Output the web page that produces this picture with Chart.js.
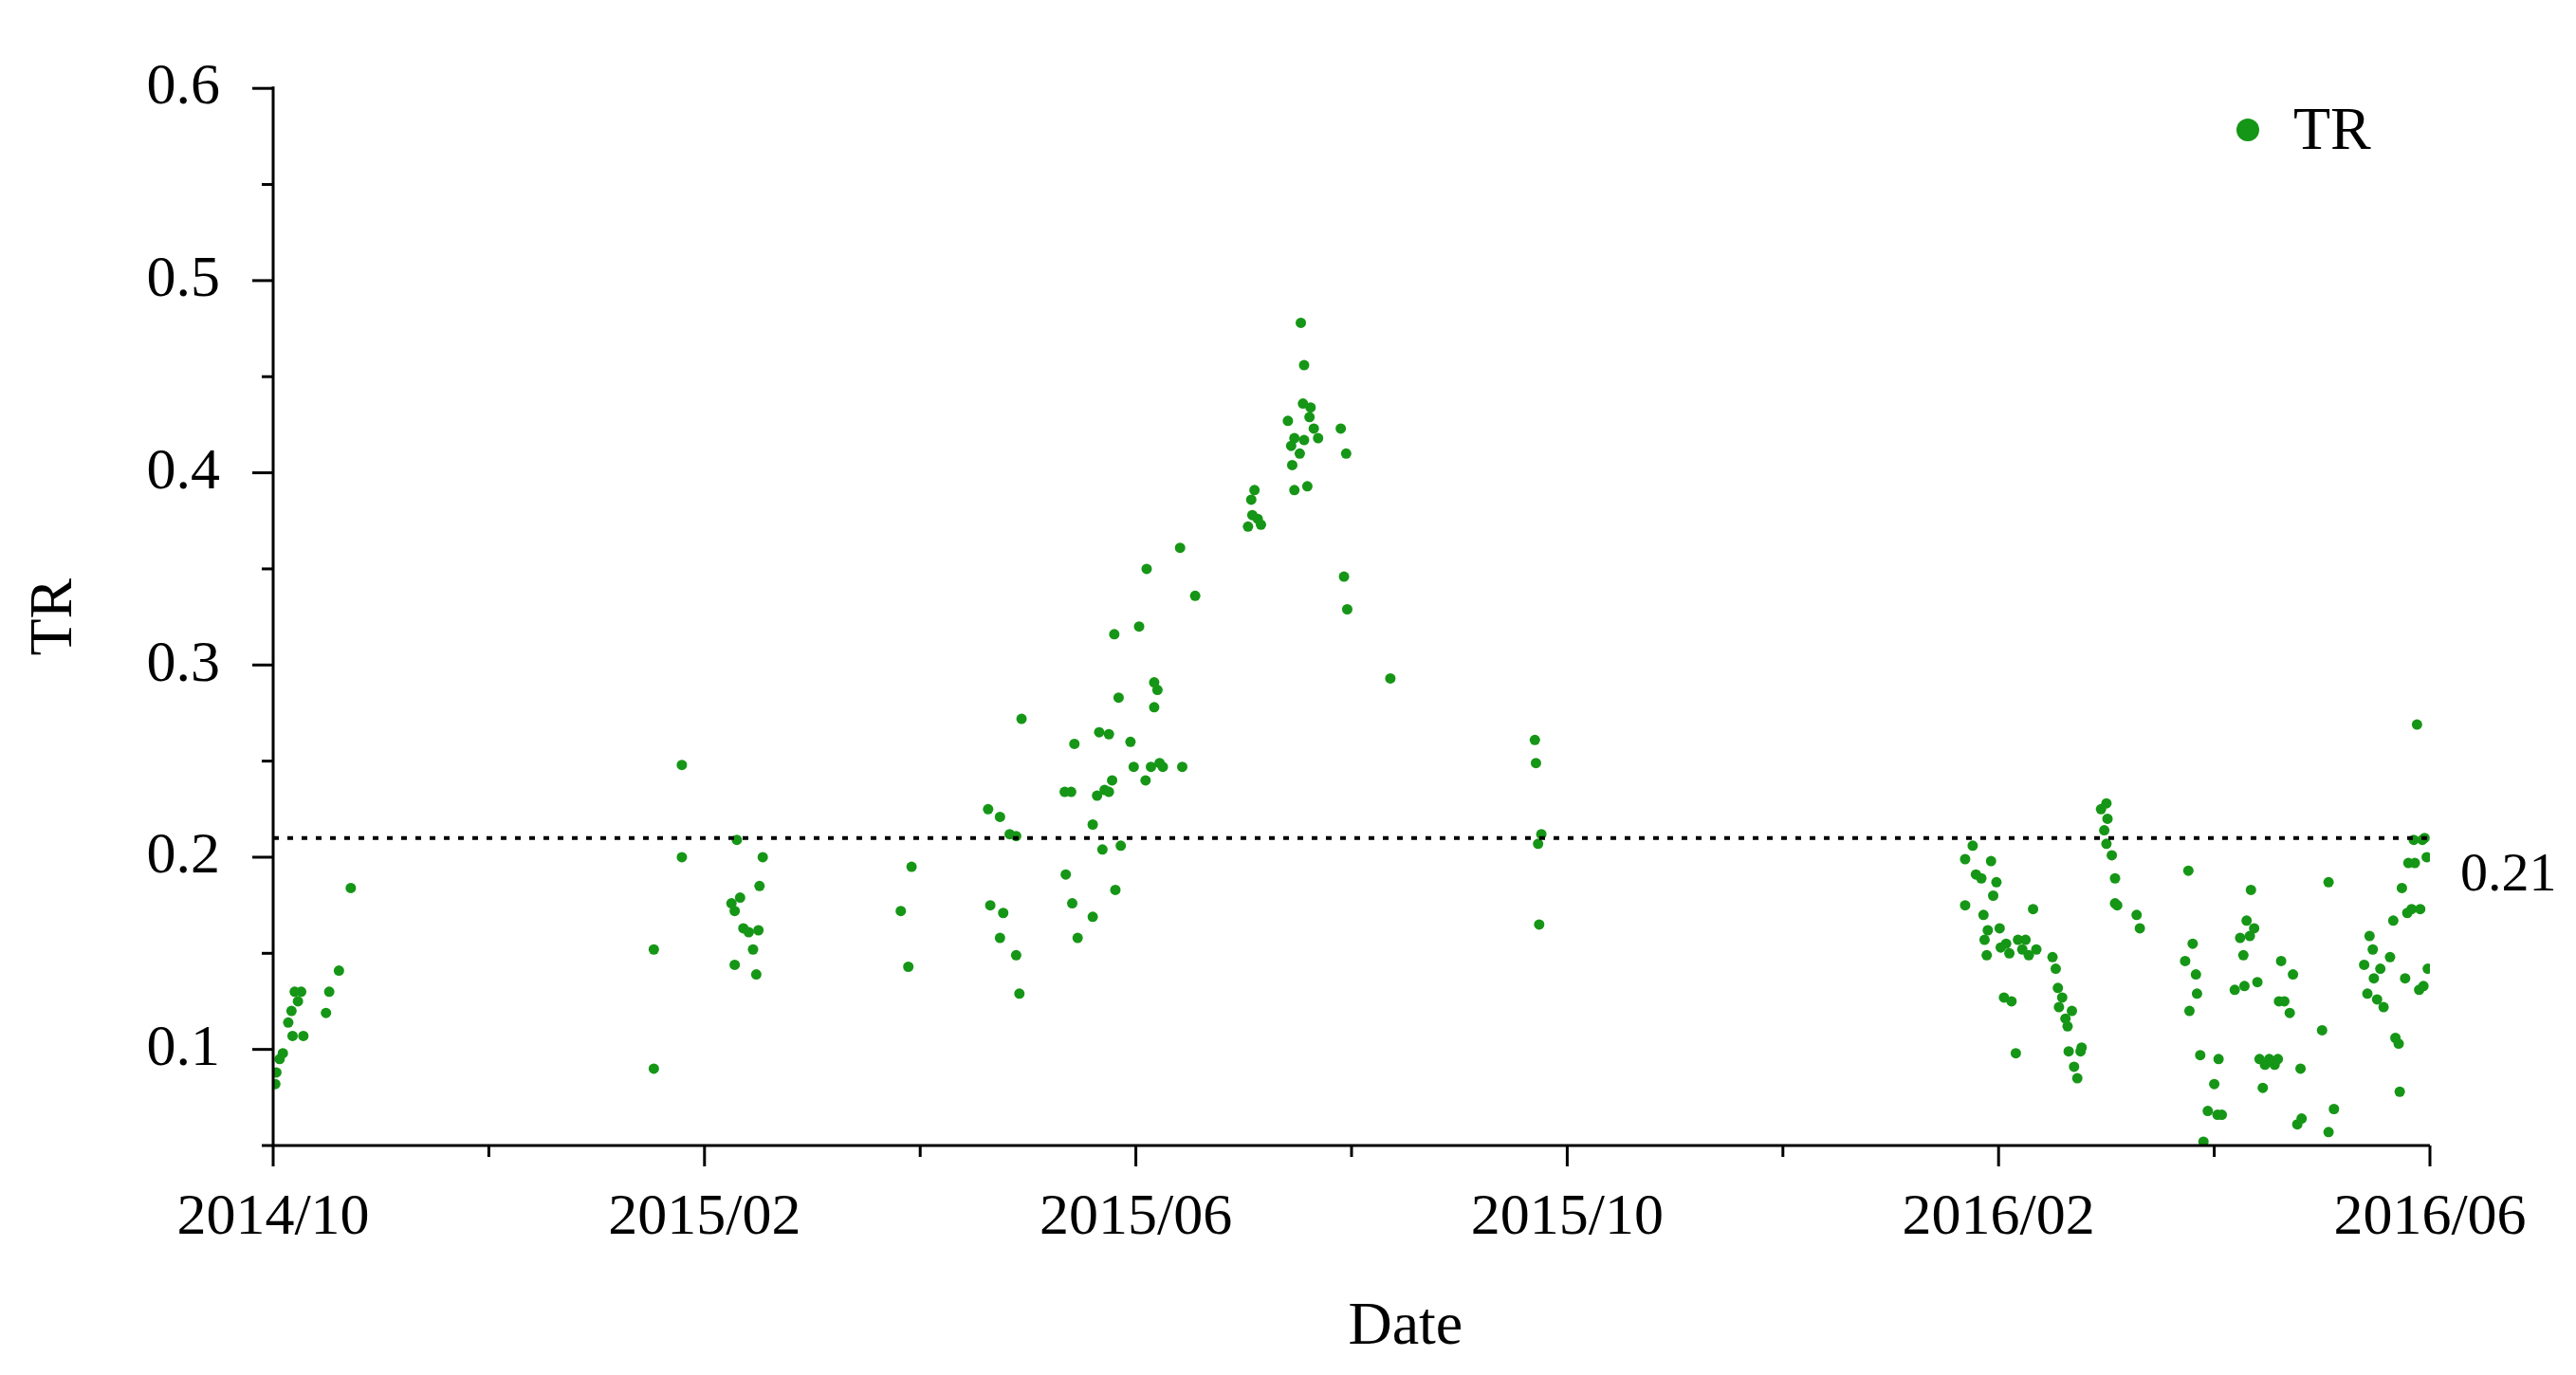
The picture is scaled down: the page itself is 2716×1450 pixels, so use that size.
<!DOCTYPE html>
<html>
<head>
<meta charset="utf-8">
<script src="https://cdn.jsdelivr.net/npm/chart.js@4.4.0/dist/chart.umd.min.js"></script>
<style>
  html, body { margin: 0; padding: 0; background: #fff; }
</style>
</head>
<body>
<canvas id="chart" width="2716" height="1450"></canvas>
<script>
// x = months since 2014/10, y = TR
const monthsX = [
  0.02,0.03,0.06,0.09,0.14,0.17,0.2,0.23,0.26,0.18,0.28,0.49,0.52,0.61,0.72,
  3.53,3.53,3.79,3.79,
  4.3,4.25,4.28,4.33,4.28,4.36,4.41,4.45,4.48,4.5,4.51,4.54,
  5.82,5.89,5.92,
  6.63,6.74,6.83,6.89,6.65,6.77,6.74,6.89,6.92,6.94,
  7.34,7.4,7.43,7.35,7.41,7.46,7.6,7.6,7.64,7.66,7.69,7.71,7.75,7.75,7.78,7.8,7.81,7.84,7.86,7.95,7.98,8.03,8.09,8.1,8.14,8.17,8.17,8.2,8.22,8.25,8.41,8.43,8.55,
  9.04,9.07,9.08,9.1,9.13,9.16,
  9.41,9.44,9.45,9.47,9.47,9.52,9.53,9.55,9.56,9.56,9.59,9.61,9.62,9.65,9.69,9.9,9.93,9.95,9.96,10.36,
  11.7,11.71,11.73,11.76,11.74,
  15.69,15.76,15.69,15.79,15.84,15.86,15.87,15.89,15.9,15.93,15.95,15.98,16.01,16.02,16.05,16.07,16.1,16.12,16.16,16.18,16.22,16.25,16.28,16.32,16.35,
  16.5,16.53,16.55,16.56,16.59,16.62,16.64,16.65,16.68,16.7,16.73,16.76,16.77,
  16.95,16.98,17.0,17.01,17.0,17.05,17.08,17.08,17.1,17.28,17.31,
  17.73,17.76,17.77,17.8,17.83,17.84,17.87,17.9,17.94,18.0,18.03,18.04,18.07,
  18.19,18.24,18.27,18.28,18.3,18.33,18.34,18.37,18.4,18.42,18.45,18.47,18.51,18.56,18.59,18.6,18.62,18.65,18.7,18.73,18.8,18.77,18.81,19.0,19.06,19.06,19.11,
  19.39,19.42,19.44,19.47,19.48,19.51,19.54,19.57,19.63,19.66,19.68,19.71,19.72,19.74,19.77,19.79,19.8,19.83,19.85,19.86,19.88,19.9,19.91,19.93,19.94,19.95,19.97,19.98
];
const trValues = [
  0.082,0.088,0.095,0.098,0.114,0.12,0.13,0.125,0.13,0.107,0.107,0.119,0.13,0.141,0.184,
  0.152,0.09,0.248,0.2,
  0.209,0.176,0.172,0.179,0.144,0.163,0.161,0.152,0.139,0.162,0.185,0.2,
  0.172,0.143,0.195,
  0.225,0.221,0.212,0.211,0.175,0.171,0.158,0.149,0.129,0.272,
  0.234,0.234,0.259,0.191,0.176,0.158,0.217,0.169,0.232,0.265,0.204,0.235,0.264,0.234,0.24,0.316,0.183,0.283,0.206,0.26,0.247,0.32,0.24,0.35,0.247,0.291,0.278,0.287,0.249,0.247,0.361,0.247,0.336,
  0.372,0.386,0.378,0.391,0.376,0.373,
  0.427,0.414,0.404,0.418,0.391,0.41,0.478,0.436,0.417,0.456,0.393,0.429,0.434,0.423,0.418,0.423,0.346,0.41,0.329,0.293,
  0.261,0.249,0.207,0.212,0.165,
  0.199,0.206,0.175,0.191,0.189,0.17,0.157,0.149,0.162,0.198,0.18,0.187,0.163,0.153,0.127,0.155,0.15,0.125,0.098,0.157,0.152,0.157,0.149,0.173,0.152,
  0.148,0.142,0.132,0.122,0.127,0.116,0.112,0.099,0.12,0.091,0.085,0.099,0.101,
  0.225,0.214,0.207,0.22,0.228,0.201,0.176,0.189,0.175,0.17,0.163,
  0.146,0.193,0.12,0.155,0.139,0.129,0.097,0.052,0.068,0.082,0.066,0.095,0.066,
  0.131,0.158,0.149,0.133,0.167,0.159,0.183,0.163,0.135,0.095,0.08,0.092,0.095,0.092,0.095,0.125,0.146,0.125,0.119,0.139,0.09,0.061,0.064,0.11,0.187,0.057,0.069,
  0.144,0.129,0.159,0.152,0.137,0.126,0.142,0.122,0.148,0.167,0.106,0.103,0.078,0.184,0.137,0.171,0.197,0.173,0.209,0.197,0.269,0.131,0.173,0.209,0.133,0.21,0.2,0.142
];
const thresholdValue = 0.21;
const yTickValues = [0.1, 0.2, 0.3, 0.4, 0.5, 0.6];
const xStartYear = 2014, xStartMonth = 10;

const FONT = "'Liberation Serif', 'Times New Roman', serif";
const GREEN = "rgb(22,150,22)";

function monthLabel(m) {
  const idx = (xStartMonth - 1) + m;
  const y = xStartYear + Math.floor(idx / 12);
  const mo = (idx % 12) + 1;
  return y + "/" + String(mo).padStart(2, "0");
}

const decor = {
  id: "decor",
  afterDraw(chart) {
    const { ctx, chartArea: a, scales: { x, y } } = chart;
    ctx.save();
    ctx.strokeStyle = "#000";
    ctx.lineWidth = 3;
    ctx.beginPath();
    ctx.moveTo(a.left, a.top - 2); ctx.lineTo(a.left, a.bottom);
    ctx.lineTo(a.right, a.bottom);
    ctx.stroke();
    // y ticks
    for (let v = 0.05; v <= 0.6001; v += 0.05) {
      const major = Math.abs(v * 10 - Math.round(v * 10)) < 1e-6;
      const py = y.getPixelForValue(v);
      ctx.beginPath();
      ctx.moveTo(a.left, py); ctx.lineTo(a.left - (major ? 22 : 12), py);
      ctx.stroke();
    }
    // x ticks
    for (let m = 0; m <= 20; m += 2) {
      const major = m % 4 === 0;
      const px = x.getPixelForValue(m);
      ctx.beginPath();
      ctx.moveTo(px, a.bottom); ctx.lineTo(px, a.bottom + (major ? 22 : 12));
      ctx.stroke();
    }
    // threshold
    const ty = y.getPixelForValue(thresholdValue);
    ctx.setLineDash([6, 9]);
    ctx.lineWidth = 4;
    ctx.beginPath();
    ctx.moveTo(a.left, ty); ctx.lineTo(a.right, ty);
    ctx.stroke();
    ctx.setLineDash([]);
    ctx.fillStyle = "#000";
    ctx.font = "58px " + FONT;
    ctx.textBaseline = "middle";
    ctx.textAlign = "left";
    ctx.fillText(thresholdValue.toFixed(2), a.right + 32, ty + 40);
    // axis titles
    ctx.font = "64px " + FONT;
    ctx.textAlign = "center";
    ctx.fillText("Date", x.getPixelForValue(10.5), 1400);
    ctx.save();
    ctx.translate(58, y.getPixelForValue(0.325));
    ctx.rotate(-Math.PI / 2);
    ctx.fillText("TR", 0, 0);
    ctx.restore();
    // legend
    ctx.fillStyle = GREEN;
    ctx.beginPath();
    ctx.arc(2370, 137, 12, 0, Math.PI * 2);
    ctx.fill();
    ctx.fillStyle = "#000";
    ctx.textAlign = "left";
    ctx.fillText("TR", 2418, 140);
    ctx.restore();
  }
};

new Chart(document.getElementById("chart"), {
  type: "scatter",
  data: {
    datasets: [{
      label: "TR",
      data: monthsX.map((m, i) => ({ x: m, y: trValues[i] })),
      backgroundColor: GREEN,
      borderColor: GREEN,
      pointRadius: 5.5,
      pointBorderWidth: 0,
    }],
  },
  options: {
    responsive: false,
    animation: false,
    devicePixelRatio: 1,
    layout: { padding: { top: 82, right: 154, left: 0, bottom: 0 } },
    plugins: { legend: { display: false }, tooltip: { enabled: false } },
    scales: {
      x: {
        type: "linear", min: 0, max: 20,
        grid: { display: false, drawTicks: false },
        border: { display: false },
        afterFit: s => { s.height = 242; },
        ticks: {
          stepSize: 2, padding: 40, color: "#000",
          font: { family: FONT, size: 62 },
          maxRotation: 0, autoSkip: false,
          callback: v => (v % 4 === 0 ? monthLabel(v) : ""),
        },
      },
      y: {
        min: 0.05, max: 0.6,
        grid: { display: false, drawTicks: false },
        border: { display: false },
        afterFit: s => { s.width = 288; },
        ticks: {
          stepSize: 0.05, padding: 56, color: "#000",
          font: { family: FONT, size: 62 },
          autoSkip: false,
          callback: v => {
            const hit = yTickValues.find(t => Math.abs(t - v) < 1e-6);
            return hit !== undefined ? hit.toFixed(1) : "";
          },
        },
      },
    },
  },
  plugins: [decor],
});
</script>
</body>
</html>
